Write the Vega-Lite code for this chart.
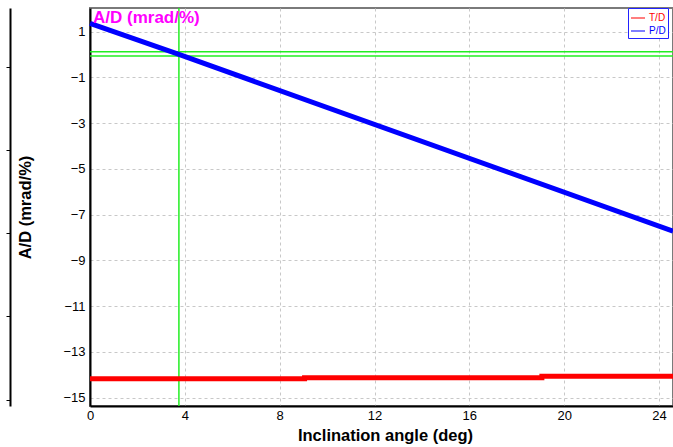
{
  "$schema": "https://vega.github.io/schema/vega-lite/v6.json",
  "width": 583,
  "height": 398,
  "autosize": {"type": "none"},
  "padding": {"left": 90, "top": 8, "right": 0, "bottom": 41},
  "background": "white",
  "config": {
    "font": "Liberation Sans",
    "view": {"stroke": "#7a7a7a", "strokeWidth": 2},
    "axis": {
      "domainColor": "#000000",
      "domainWidth": 2,
      "gridColor": "#c8c8c8",
      "gridDash": [3, 3],
      "gridWidth": 1,
      "ticks": false,
      "labelFlush": false,
      "labelColor": "#000000",
      "labelFont": "Liberation Sans",
      "labelFontSize": 13,
      "labelPadding": 5,
      "titleColor": "#000000",
      "titleFont": "Liberation Sans",
      "titleFontSize": 16.5,
      "titleFontWeight": "bold"
    }
  },
  "resolve": {"axis": {"y": "independent"}},
  "datasets": {
    "curves": [
      {"angle": 0, "ad": 1.36, "series": "P/D"},
      {"angle": 3.75, "ad": 0.0, "series": "P/D"},
      {"angle": 24.59, "ad": -7.72, "series": "P/D"},
      {"angle": 0, "ad": -14.17, "series": "T/D"},
      {"angle": 9.05, "ad": -14.13, "series": "T/D"},
      {"angle": 19.06, "ad": -14.06, "series": "T/D"},
      {"angle": 24.59, "ad": -14.06, "series": "T/D"}
    ],
    "vmark": [{"angle": 3.75}],
    "hmarks": [{"ad": 0.12}, {"ad": -0.07}],
    "label": [{"angle": 0, "ad": 2.03, "text": "A/D (mrad/%)"}]
  },
  "layer": [
    {
      "data": {"name": "vmark"},
      "mark": {"type": "rule", "color": "#22ee22", "strokeWidth": 1.5},
      "encoding": {
        "x": {
          "field": "angle",
          "type": "quantitative",
          "scale": {"domain": [0, 24.59], "nice": false, "zero": false},
          "axis": {
            "values": [0, 4, 8, 12, 16, 20, 24],
            "labelPadding": 3,
            "title": "Inclination angle (deg)",
            "titleX": 295,
            "titleY": 21
          }
        }
      }
    },
    {
      "data": {"name": "hmarks"},
      "mark": {"type": "rule", "color": "#22ee22", "strokeWidth": 1.5},
      "encoding": {
        "y": {
          "field": "ad",
          "type": "quantitative",
          "scale": {"domain": [-15.36, 2.03], "nice": false, "zero": false},
          "axis": {
            "values": [-15, -13, -11, -9, -7, -5, -3, -1, 1],
            "title": "A/D (mrad/%)",
            "titleX": -57
          }
        }
      }
    },
    {
      "data": {"name": "curves"},
      "transform": [{"filter": "datum.series === 'T/D'"}],
      "mark": {"type": "line", "interpolate": "step-after", "strokeWidth": 5},
      "encoding": {
        "x": {"field": "angle", "type": "quantitative"},
        "y": {"field": "ad", "type": "quantitative", "axis": null},
        "color": {
          "field": "series",
          "type": "nominal",
          "scale": {"domain": ["T/D", "P/D"], "range": ["#ff0000", "#0000ff"]},
          "legend": {
            "title": null,
            "orient": "none",
            "legendX": 538,
            "legendY": 0,
            "padding": 2,
            "fillColor": "#ffffff",
            "strokeColor": "#2222ff",
            "symbolType": "stroke",
            "symbolSize": 196,
            "symbolStrokeWidth": 2,
            "symbolOpacity": 0.5,
            "labelFontSize": 10,
            "labelFont": "Liberation Sans",
            "labelOffset": 3,
            "rowPadding": -2,
            "encode": {
              "labels": {
                "update": {
                  "fill": {"signal": "datum.value === 'T/D' ? '#ff0000' : '#0000ff'"}
                }
              }
            }
          }
        }
      }
    },
    {
      "data": {"name": "curves"},
      "transform": [{"filter": "datum.series === 'P/D'"}],
      "mark": {"type": "line", "strokeWidth": 5},
      "encoding": {
        "x": {"field": "angle", "type": "quantitative"},
        "y": {"field": "ad", "type": "quantitative", "axis": null},
        "color": {"field": "series", "type": "nominal"}
      }
    },
    {
      "data": {"name": "label"},
      "mark": {
        "type": "text",
        "align": "left",
        "baseline": "top",
        "dx": 3,
        "dy": 2,
        "font": "Liberation Sans",
        "fontSize": 17,
        "fontWeight": "bold",
        "color": "#ff00ff"
      },
      "encoding": {
        "x": {"field": "angle", "type": "quantitative"},
        "y": {
          "field": "ad",
          "type": "quantitative",
          "axis": {
            "orient": "left",
            "offset": 80,
            "labels": false,
            "grid": false,
            "title": null,
            "ticks": true,
            "tickSize": 4,
            "tickColor": "#000000",
            "values": [-0.55, -4.18, -7.8, -11.43, -15.1]
          }
        },
        "text": {"field": "text"}
      }
    }
  ]
}
